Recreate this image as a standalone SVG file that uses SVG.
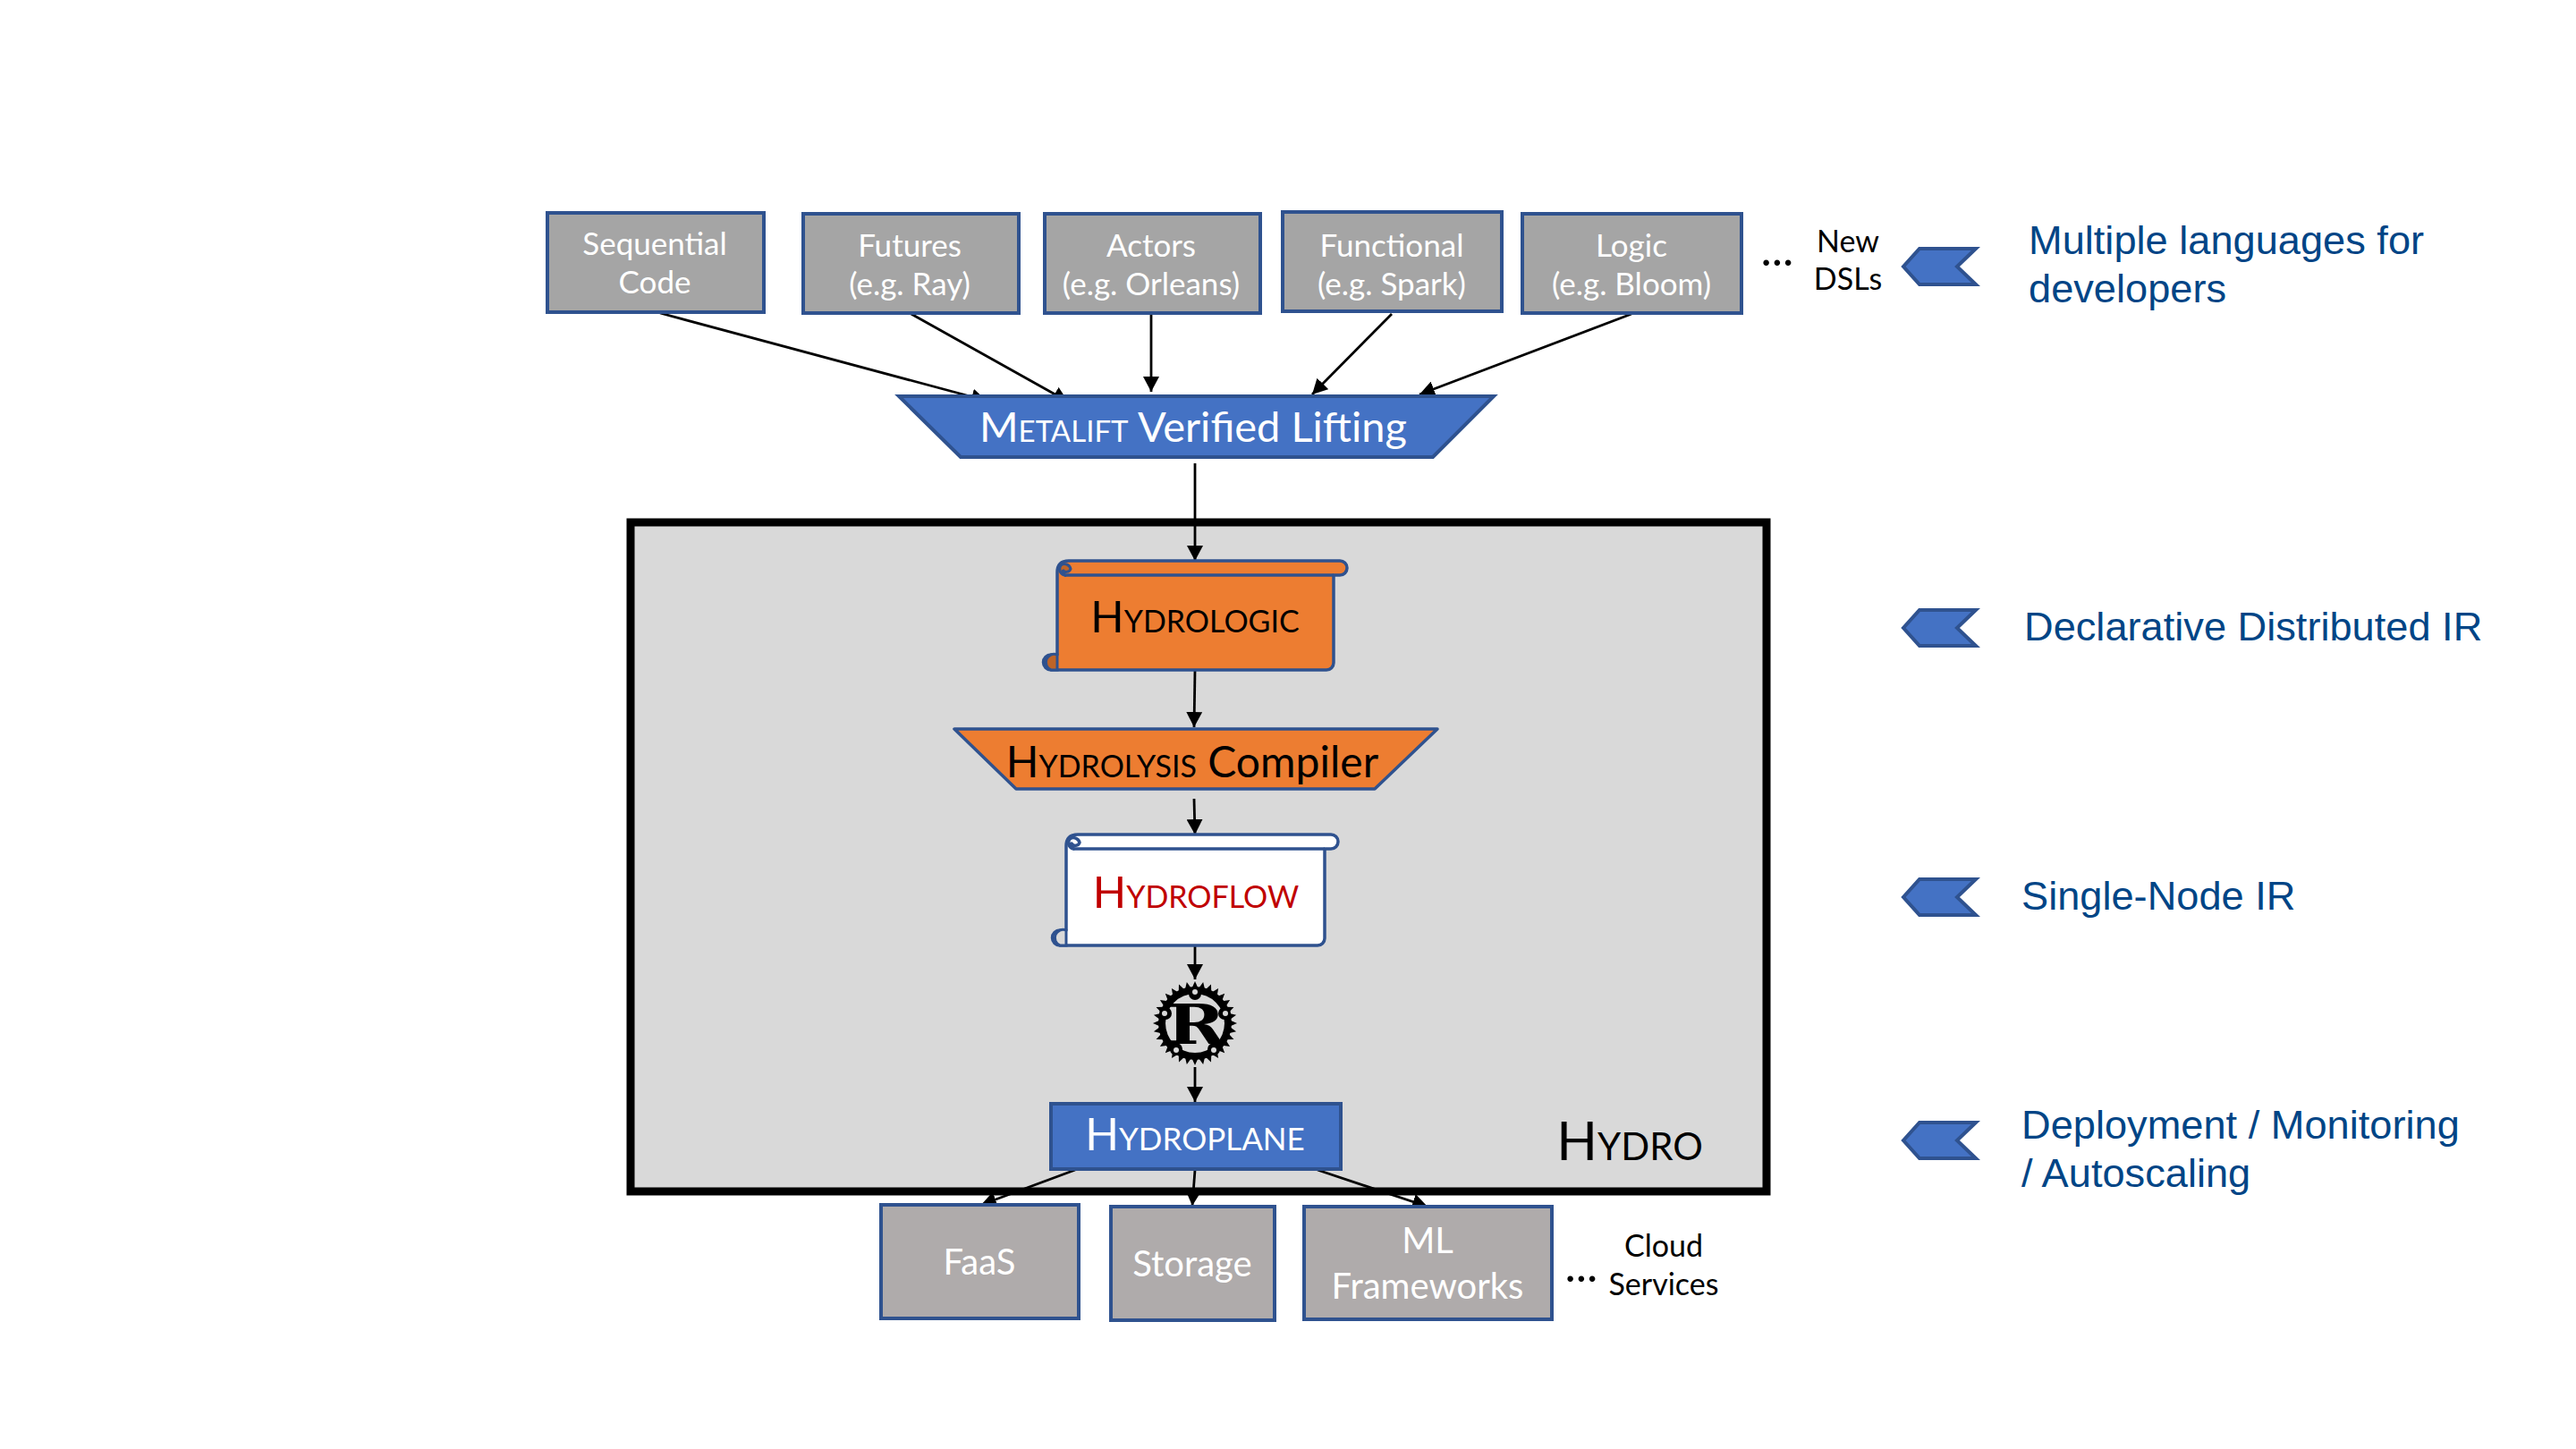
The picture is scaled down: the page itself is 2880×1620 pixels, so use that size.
<svg xmlns="http://www.w3.org/2000/svg" xmlns:xlink="http://www.w3.org/1999/xlink" width="2880" height="1620" viewBox="0 0 2880 1620">
<style>
text{font-family:"Lato","Open Sans",sans-serif;text-anchor:middle}
.box{fill:#a5a5a5;stroke:#2f528f;stroke-width:4}
.cloud{fill:#afabab;stroke:#2f528f;stroke-width:4}
.blue{fill:#4472c4;stroke:#2f528f;stroke-width:4}
.org{fill:#ed7d31;stroke:#2f528f;stroke-width:3.5;stroke-linejoin:round}
.wht{fill:#fff;stroke:#2f528f;stroke-width:3.5;stroke-linejoin:round}
.dorg{fill:#be6428;stroke:#2f528f;stroke-width:3}
.dwht{fill:#d9d9d9;stroke:#2f528f;stroke-width:3}
.lbl{fill:#fff;font-size:35px}
.lblb{fill:#fff;font-size:40px}
.blk{fill:#000;font-size:34px}
.dots{fill:#000;font-size:52px}
.sc{font-variant:small-caps}
.note{font-family:"Liberation Sans",Arial,sans-serif;fill:#004586;font-size:45.2px;text-anchor:start}
.cn line{stroke:#000;stroke-width:2.8;marker-end:url(#ah)}
</style>
<defs>
<marker id="ah" markerUnits="userSpaceOnUse" markerWidth="18" markerHeight="18" refX="17" refY="9" orient="auto"><path d="M0 0L17 9L0 18Z" fill="#000"/></marker>
<polygon id="t" points="-3.6,-39 0,-47 3.6,-39"/>
<g id="t2"><use xlink:href="#t"/><use xlink:href="#t" transform="rotate(11.25)"/></g>
<g id="t4"><use xlink:href="#t2"/><use xlink:href="#t2" transform="rotate(22.5)"/></g>
<g id="t8"><use xlink:href="#t4"/><use xlink:href="#t4" transform="rotate(45)"/></g>
<g id="t16"><use xlink:href="#t8"/><use xlink:href="#t8" transform="rotate(90)"/></g>
<g id="chev"><polygon class="blue" points="-63,-20 0,-20 -21,0 0,20 -63,20 -81,0" transform="translate(2209 0)"/></g>
</defs>
<rect width="2880" height="1620" fill="#fff"/>
<rect id="hydro-bg" x="705" y="584" width="1270" height="748" fill="#d9d9d9"/>
<g id="connectors" class="cn">
<line x1="738" y1="350" x2="1103" y2="448"/>
<line x1="1017" y1="350" x2="1194" y2="449"/>
<line x1="1287" y1="352" x2="1287" y2="438"/>
<line x1="1556" y1="351" x2="1467" y2="441"/>
<line x1="1824" y1="351" x2="1587" y2="441"/>
<line x1="1336" y1="518" x2="1336" y2="627"/>
<line x1="1336" y1="749" x2="1335" y2="813"/>
<line x1="1335" y1="893" x2="1336" y2="933"/>
<line x1="1336" y1="1057" x2="1336" y2="1095"/>
<line x1="1336" y1="1193" x2="1336" y2="1232"/>
<line x1="1202" y1="1308" x2="1097" y2="1347"/>
<line x1="1336" y1="1308" x2="1333" y2="1348"/>
<line x1="1473" y1="1308" x2="1596" y2="1349"/>
</g>
<rect id="hydro-frame" x="705" y="584" width="1270" height="748" fill="none" stroke="#000" stroke-width="9"/>
<g id="sequential"><rect class="box" x="612" y="238" width="242" height="111"/><text class="lbl" x="732" y="285">Sequential</text><text class="lbl" x="732" y="328">Code</text></g>
<g id="futures"><rect class="box" x="898" y="239" width="241" height="111"/><text class="lbl" x="1017" y="287">Futures</text><text class="lbl" x="1017" y="330">(e.g. Ray)</text></g>
<g id="actors"><rect class="box" x="1168" y="239" width="241" height="111"/><text class="lbl" x="1287" y="287">Actors</text><text class="lbl" x="1287" y="330">(e.g. Orleans)</text></g>
<g id="functional"><rect class="box" x="1434" y="237" width="245" height="111"/><text class="lbl" x="1556" y="287">Functional</text><text class="lbl" x="1556" y="330">(e.g. Spark)</text></g>
<g id="logic"><rect class="box" x="1702" y="239" width="245" height="111"/><text class="lbl" x="1824" y="287">Logic</text><text class="lbl" x="1824" y="330">(e.g. Bloom)</text></g>
<g id="new-dsls"><text class="dots" x="1987" y="297">...</text><text class="blk" x="2066" y="282">New</text><text class="blk" x="2066" y="324">DSLs</text></g>
<g id="metalift"><polygon class="blue" points="1005,443 1670,443 1602,511 1074,511"/><text x="1334" y="494" fill="#fff" font-size="47"><tspan class="sc">Metalift</tspan> Verified Lifting</text></g>
<g id="hydrologic">
<path class="org" d="M1182 640Q1182 627 1195 627L1498 627A8 8 0 0 1 1498 643L1491 643L1491 741A8 8 0 0 1 1483 749L1175 749A8.5 8.5 0 0 1 1175 732L1182 732Z"/>
<path class="org" style="fill:none" d="M1190 643L1491 643"/>
<path class="dorg" d="M1182 732A8.5 8.5 0 1 0 1175 749L1182 749Z"/>
<path class="dorg" d="M1190 643A7 7 0 0 1 1186 632A7 7 0 0 1 1197 636A5 5 0 0 1 1188 637Z"/>
<text class="sc" x="1336" y="707" fill="#000" font-size="49">Hydrologic</text></g>
<g id="hydrolysis"><polygon class="org" points="1067,815 1607,815 1537,882 1136,882"/><text x="1333" y="869" fill="#000" font-size="48"><tspan class="sc">Hydrolysis</tspan> Compiler</text></g>
<g id="hydroflow">
<path class="wht" d="M1192 946Q1192 933 1205 933L1488 933A8 8 0 0 1 1488 949L1481 949L1481 1049A8 8 0 0 1 1473 1057L1185 1057A8.5 8.5 0 0 1 1185 1040L1192 1040Z"/>
<path class="wht" style="fill:none" d="M1200 949L1481 949"/>
<path class="dwht" d="M1192 1040A8.5 8.5 0 1 0 1185 1057L1192 1057Z"/>
<path class="wht" d="M1200 949A7 7 0 0 1 1196 938A7 7 0 0 1 1207 942A5 5 0 0 1 1198 943Z"/>
<text class="sc" x="1337" y="1015" fill="#c00000" font-size="49">Hydroflow</text></g>
<g id="rust" transform="translate(1336 1144)">
<use xlink:href="#t16"/><use xlink:href="#t16" transform="rotate(180)"/>
<circle r="41" fill="#000"/><circle r="33" fill="#d9d9d9"/>
<g fill="#000"><circle cy="-33" r="7"/><circle cx="-33" cy="-11" r="7"/><circle cx="33" cy="-11" r="7"/><circle cx="-21" cy="29" r="7"/><circle cx="21" cy="29" r="7"/></g>
<g fill="#d9d9d9"><circle cy="-35" r="3"/><circle cx="-34" cy="-11" r="3"/><circle cx="34" cy="-11" r="3"/><circle cx="-21" cy="30" r="3"/><circle cx="21" cy="30" r="3"/></g>
<text transform="translate(1 23) scale(1.28 1)" style="font-family:'DejaVu Serif',serif;font-weight:700" font-size="62" fill="#000">R</text></g>
<g id="hydroplane"><rect class="blue" x="1175" y="1234" width="324" height="73"/><text class="sc" x="1336" y="1286" fill="#fff" font-size="49.5">Hydroplane</text></g>
<g id="hydro-label"><text class="sc" x="1822" y="1297" fill="#000" font-size="60">Hydro</text></g>
<g id="faas"><rect class="cloud" x="985" y="1347" width="221" height="127"/><text class="lblb" x="1095" y="1425">FaaS</text></g>
<g id="storage"><rect class="cloud" x="1242" y="1349" width="183" height="127"/><text class="lblb" x="1333" y="1427">Storage</text></g>
<g id="ml"><rect class="cloud" x="1458" y="1349" width="277" height="126"/><text class="lblb" x="1596" y="1401">ML</text><text class="lblb" x="1596" y="1452">Frameworks</text></g>
<g id="cloud-services"><text class="dots" x="1768" y="1433">...</text><text class="blk" x="1860" y="1405">Cloud</text><text class="blk" x="1860" y="1448">Services</text></g>
<g id="note-languages"><use xlink:href="#chev" transform="translate(0 298)"/><text class="note" x="2268" y="284">Multiple languages for</text><text class="note" x="2268" y="338">developers</text></g>
<g id="note-declarative"><use xlink:href="#chev" transform="translate(0 702)"/><text class="note" x="2263" y="716">Declarative Distributed IR</text></g>
<g id="note-single"><use xlink:href="#chev" transform="translate(0 1003)"/><text class="note" x="2260" y="1017">Single-Node IR</text></g>
<g id="note-deploy"><use xlink:href="#chev" transform="translate(0 1275)"/><text class="note" x="2260" y="1273">Deployment / Monitoring</text><text class="note" x="2260" y="1327">/ Autoscaling</text></g>
</svg>
